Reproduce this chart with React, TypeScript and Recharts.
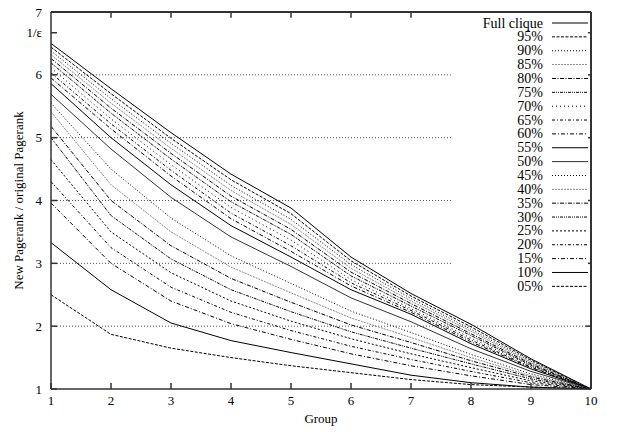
import React from 'react';
import { LineChart, Line, XAxis, YAxis, ReferenceLine, Legend } from 'recharts';

const groups = [1, 2, 3, 4, 5, 6, 7, 8, 9, 10];

const seriesNames = [
  'Full clique', '95%', '90%', '85%', '80%', '75%', '70%', '65%', '60%', '55%',
  '50%', '45%', '40%', '35%', '30%', '25%', '20%', '15%', '10%', '05%',
];

const fullClique = [6.50, 5.78, 5.08, 4.42, 3.88, 3.10, 2.52, 2.03, 1.48, 1.00];
const p95 = [6.44, 5.70, 4.99, 4.33, 3.79, 3.04, 2.48, 1.99, 1.46, 1.00];
const p90 = [6.38, 5.62, 4.91, 4.24, 3.70, 2.98, 2.44, 1.95, 1.44, 1.00];
const p85 = [6.32, 5.55, 4.83, 4.16, 3.62, 2.92, 2.40, 1.92, 1.42, 1.00];
const p80 = [6.26, 5.47, 4.75, 4.07, 3.54, 2.86, 2.36, 1.88, 1.40, 1.00];
const p75 = [6.19, 5.39, 4.66, 3.98, 3.46, 2.80, 2.32, 1.85, 1.38, 1.00];
const p70 = [6.11, 5.30, 4.57, 3.89, 3.37, 2.74, 2.28, 1.81, 1.37, 1.00];
const p65 = [6.03, 5.22, 4.48, 3.80, 3.28, 2.69, 2.25, 1.78, 1.35, 1.00];
const p60 = [5.95, 5.14, 4.39, 3.71, 3.19, 2.64, 2.22, 1.75, 1.34, 1.00];
const p55 = [5.86, 5.00, 4.25, 3.60, 3.10, 2.58, 2.19, 1.72, 1.32, 1.00];
const p50 = [5.69, 4.82, 4.05, 3.42, 2.95, 2.45, 2.07, 1.64, 1.28, 1.00];
const p45 = [5.55, 4.50, 3.72, 3.12, 2.68, 2.24, 1.90, 1.55, 1.24, 1.00];
const p40 = [5.41, 4.25, 3.50, 2.94, 2.53, 2.13, 1.82, 1.50, 1.21, 1.00];
const p35 = [5.18, 4.00, 3.28, 2.76, 2.38, 2.02, 1.74, 1.45, 1.19, 1.00];
const p30 = [5.00, 3.76, 3.07, 2.58, 2.23, 1.91, 1.65, 1.40, 1.16, 1.00];
const p25 = [4.65, 3.50, 2.85, 2.40, 2.08, 1.80, 1.56, 1.34, 1.13, 1.00];
const p20 = [4.30, 3.25, 2.62, 2.22, 1.93, 1.68, 1.47, 1.28, 1.10, 1.00];
const p15 = [3.96, 3.00, 2.40, 2.04, 1.79, 1.56, 1.37, 1.21, 1.07, 1.00];
const p10 = [3.33, 2.58, 2.05, 1.77, 1.58, 1.40, 1.22, 1.10, 1.03, 1.00];
const p05 = [2.50, 1.87, 1.65, 1.50, 1.37, 1.26, 1.15, 1.07, 1.03, 1.00];

const seriesValues = [
  fullClique, p95, p90, p85, p80, p75, p70, p65, p60, p55,
  p50, p45, p40, p35, p30, p25, p20, p15, p10, p05,
];

const yTicks = [1, 2, 3, 4, 5, 6, 6.67, 7];
const gridValues = [2, 3, 4, 5, 6];
const yMin = 1;
const yMax = 7;
const xMin = 1;
const xMax = 10;

// line looks, in legend order (gnuplot-ish)
const lineStyles = [
  { stroke: '#000', dash: undefined },
  { stroke: '#000', dash: '3 1.5' },
  { stroke: '#000', dash: '1 2' },
  { stroke: '#888', dash: '2 1' },
  { stroke: '#000', dash: '4 1.5 1 1.5' },
  { stroke: '#000', dash: '3 1 1 1 1 1' },
  { stroke: '#000', dash: '1 3' },
  { stroke: '#000', dash: '3 2 1 2' },
  { stroke: '#000', dash: '4 2 1 2' },
  { stroke: '#000', dash: undefined },
  { stroke: '#333', dash: undefined },
  { stroke: '#000', dash: '1 2' },
  { stroke: '#888', dash: '2 1' },
  { stroke: '#000', dash: '4 1.5 1 1.5' },
  { stroke: '#000', dash: '3 1 1 1 1 1' },
  { stroke: '#000', dash: '2 2' },
  { stroke: '#000', dash: '3 2 1 2' },
  { stroke: '#000', dash: '4 2 1 2' },
  { stroke: '#000', dash: undefined },
  { stroke: '#000', dash: '3 1.5' },
];

const data = groups.map((g, i) => {
  const row: Record<string, number> = { group: g };
  seriesValues.forEach((vals, s) => {
    row['s' + s] = vals[i];
  });
  return row;
});

const FONT = '"Liberation Serif", "Times New Roman", serif';
const AXIS = '#333';

const LegendBox = () => (
  <svg width={135} height={282} style={{ display: 'block', background: '#fff' }}>
    {seriesNames.map((name, i) => {
      const y = 10 + i * 13.86;
      const st = lineStyles[i];
      return (
        <g key={name}>
          <text x={90} y={y} textAnchor="end" dominantBaseline="central" fontSize={14} fontFamily={FONT} fill="#000">
            {name}
          </text>
          <line x1={99} x2={135} y1={y} y2={y} stroke={st.stroke} strokeDasharray={st.dash} strokeWidth={1} />
        </g>
      );
    })}
  </svg>
);

const YTitle = (props: any) => {
  const vb = props.viewBox;
  const cx = vb.x + 10;
  const cy = vb.y + vb.height / 2;
  return (
    <text x={cx} y={cy} transform={`rotate(-90 ${cx} ${cy})`} textAnchor="middle" dominantBaseline="central" fontSize={13} fontFamily={FONT} fill="#000">
      New Pagerank / original Pagerank
    </text>
  );
};

const XTitle = (props: any) => {
  const vb = props.viewBox;
  return (
    <text x={vb.x + vb.width / 2} y={vb.y + 29} textAnchor="middle" dominantBaseline="central" fontSize={13} fontFamily={FONT} fill="#000">
      Group
    </text>
  );
};

const fmtY = (v: number) => (v === 6.67 ? '1/ε' : String(v));

export default function App() {
  return (
    <div style={{ marginTop: -4, width: 614 }}>
      <LineChart width={614} height={428} data={data} margin={{ top: 8, right: 31, bottom: 0, left: 0 }}>
        {gridValues.map((v) => (
          <ReferenceLine key={v} y={v} stroke="#555" strokeDasharray="1 2" strokeWidth={1} ifOverflow="extendDomain" />
        ))}
        {/* box border: top and right */}
        <ReferenceLine y={yMax} stroke={AXIS} strokeWidth={2} ifOverflow="extendDomain" />
        <ReferenceLine x={xMax} stroke={AXIS} strokeWidth={2} ifOverflow="extendDomain" />
        {/* mirrored tick marks on top and right */}
        {groups.slice(1, -1).map((g) => (
          <ReferenceLine key={'tt' + g} segment={[{ x: g, y: yMax }, { x: g, y: yMax - 0.09 }]} stroke={AXIS} strokeWidth={1.5} ifOverflow="visible" />
        ))}
        {yTicks.slice(1, -1).map((v) => (
          <ReferenceLine key={'rt' + v} segment={[{ x: xMax, y: v }, { x: xMax - 0.09, y: v }]} stroke={AXIS} strokeWidth={1.5} ifOverflow="visible" />
        ))}
        <XAxis
          dataKey="group"
          type="number"
          domain={[xMin, xMax]}
          ticks={groups}
          interval={0}
          height={43}
          tickSize={-6}
          tickMargin={13}
          stroke={AXIS}
          strokeWidth={1.5}
          tick={{ fontSize: 13, fontFamily: FONT, fill: '#000' }}
          label={<XTitle />}
        />
        <YAxis
          type="number"
          domain={[yMin, yMax]}
          ticks={yTicks}
          interval={0}
          width={43}
          tickSize={-6}
          tickMargin={15}
          stroke={AXIS}
          strokeWidth={1.5}
          tickFormatter={fmtY}
          tick={{ fontSize: 13, fontFamily: FONT, fill: '#000' }}
          label={<YTitle />}
        />
        {seriesNames.map((name, i) => (
          <Line
            key={name}
            dataKey={'s' + i}
            name={name}
            type="linear"
            stroke={lineStyles[i].stroke}
            strokeDasharray={lineStyles[i].dash}
            strokeWidth={1}
            dot={false}
            activeDot={false}
            isAnimationActive={false}
          />
        ))}
        <Legend
          layout="vertical"
          align="center"
          verticalAlign="middle"
          content={() => <LegendBox />}
          wrapperStyle={{ position: 'absolute', left: 445, top: 9, width: 135, height: 282 }}
        />
      </LineChart>
    </div>
  );
}
